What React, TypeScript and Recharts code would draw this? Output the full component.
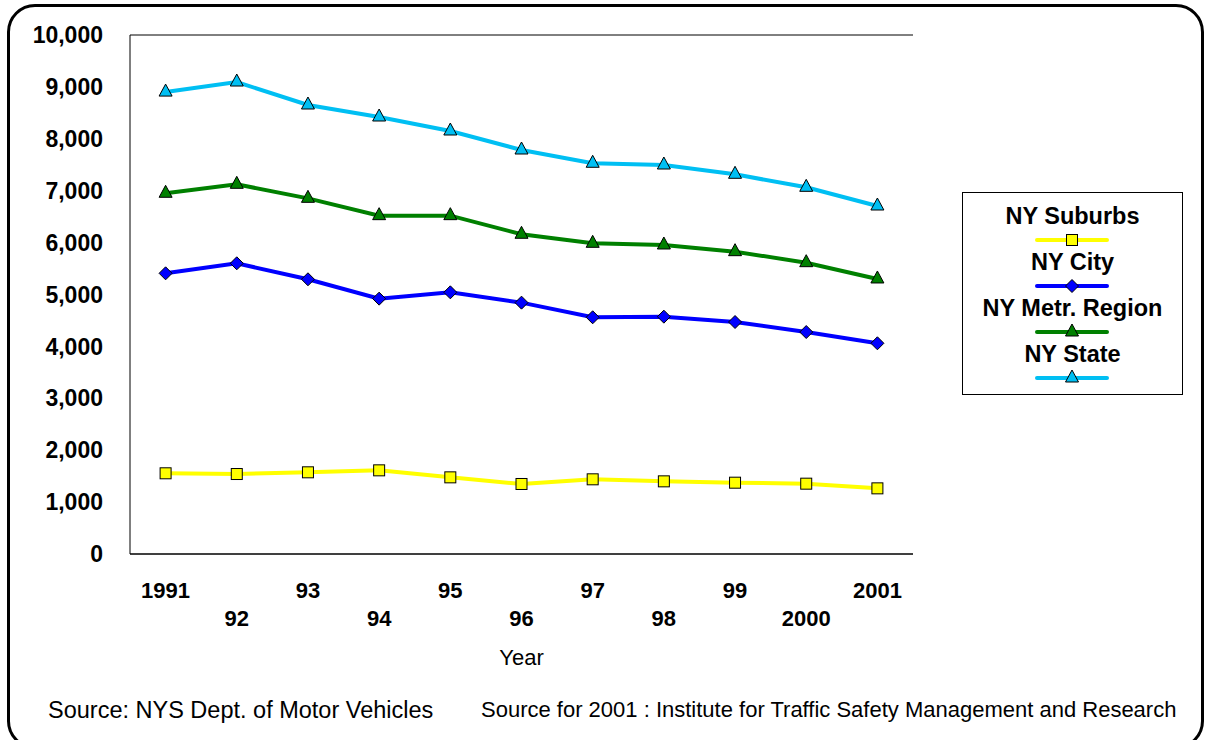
import React from 'react';
import { LineChart, Line, XAxis, YAxis, CartesianGrid, Legend } from 'recharts';

const years = ['1991', '92', '93', '94', '95', '96', '97', '98', '99', '2000', '2001'];
const suburbs = [1555, 1541, 1574, 1612, 1477, 1349, 1439, 1400, 1374, 1355, 1265];
const city = [5408, 5601, 5293, 4920, 5042, 4843, 4561, 4573, 4470, 4277, 4060];
const metro = [6950, 7123, 6853, 6519, 6519, 6160, 5986, 5954, 5825, 5613, 5299];
const state = [8900, 9094, 8651, 8420, 8150, 7784, 7528, 7495, 7316, 7065, 6705];
const yTicks = [0, 1000, 2000, 3000, 4000, 5000, 6000, 7000, 8000, 9000, 10000];

const seriesNames = ['NY Suburbs', 'NY City', 'NY Metr. Region', 'NY State'];
const colors = ['#FFFF00', '#0000FF', '#008000', '#00BFF3'];
const shapes = ['square', 'diamond', 'triangle', 'triangle'];

const data = years.map((y, i) => ({
  year: y,
  suburbs: suburbs[i],
  city: city[i],
  metro: metro[i],
  state: state[i],
}));

const FONT = '"Liberation Sans", Arial, sans-serif';

function Marker({ cx, cy, shape, fill }: { cx: number; cy: number; shape: string; fill: string }) {
  if (cx == null || cy == null) return null;
  if (shape === 'square') {
    return <rect x={cx - 5.5} y={cy - 5.5} width={11} height={11} fill={fill} stroke="#000" strokeWidth={1} />;
  }
  if (shape === 'diamond') {
    return (
      <polygon
        points={`${cx},${cy - 6.5} ${cx + 6.5},${cy} ${cx},${cy + 6.5} ${cx - 6.5},${cy}`}
        fill={fill}
        stroke="#000"
        strokeWidth={1}
      />
    );
  }
  return (
    <polygon
      points={`${cx},${cy - 8} ${cx + 6.5},${cy + 4} ${cx - 6.5},${cy + 4}`}
      fill={fill}
      stroke="#000"
      strokeWidth={1}
    />
  );
}

function makeDot(shape: string, fill: string) {
  return (props: any) => <Marker key={`${shape}-${props.index}`} cx={props.cx} cy={props.cy} shape={shape} fill={fill} />;
}

function XTick(props: any) {
  const { x, y, payload, index } = props;
  const off = index % 2 === 0 ? 28 : 56;
  return (
    <text
      x={x}
      y={y + off}
      textAnchor="middle"
      dominantBaseline="central"
      fontFamily={FONT}
      fontWeight="bold"
      fontSize={22}
      fill="#000"
    >
      {payload.value}
    </text>
  );
}

function LegendContent() {
  return (
    <div
      style={{
        width: '100%',
        height: '100%',
        boxSizing: 'border-box',
        border: '1px solid #000',
        background: '#fff',
        paddingTop: 10,
        fontFamily: FONT,
      }}
    >
      {seriesNames.map((name, i) => (
        <div key={name} style={{ textAlign: 'center', height: 46 }}>
          <div style={{ fontWeight: 'bold', fontSize: 23.5, lineHeight: '26px', color: '#000', whiteSpace: 'nowrap' }}>{name}</div>
          <svg width={80} height={20} style={{ display: 'block', margin: '0 auto' }}>
            <line x1={4} y1={11} x2={74} y2={11} stroke={colors[i]} strokeWidth={4} strokeLinecap="round" />
            <Marker cx={39} cy={11} shape={shapes[i]} fill={colors[i]} />
          </svg>
        </div>
      ))}
    </div>
  );
}

export default function App() {
  return (
    <div style={{ position: 'absolute', left: 0, top: 0, width: 1206, height: 740, background: '#fff', overflow: 'hidden' }}>
      <div
        style={{
          position: 'absolute',
          left: 7,
          top: 4,
          width: 1197,
          height: 745,
          boxSizing: 'border-box',
          border: '3px solid #000',
          borderRadius: 28,
        }}
      />
      <div style={{ position: 'absolute', left: 0, top: 0 }}>
        <LineChart
          width={1206}
          height={740}
          data={data}
          margin={{ top: 35, right: 293, bottom: 0, left: 0 }}
        >
          <CartesianGrid vertical={false} stroke="#000" strokeWidth={1} />
          <XAxis
            dataKey="year"
            height={186}
            padding={{ left: 35.6, right: 35.6 }}
            axisLine={{ stroke: '#000' }}
            tickLine={false}
            tick={<XTick />}
            interval={0}
            label={{
              value: 'Year',
              position: 'insideTop',
              offset: 95,
              fontFamily: FONT,
              fontSize: 22,
              fill: '#000',
            }}
          />
          <YAxis
            yAxisId="left"
            width={130}
            domain={[0, 10000]}
            ticks={yTicks}
            interval={0}
            axisLine={{ stroke: '#000' }}
            tickLine={false}
            tickMargin={21}
            tickFormatter={(v: number) => v.toLocaleString('en-US')}
            tick={{ fontFamily: FONT, fontWeight: 'bold', fontSize: 23, fill: '#000' }}
          />
          <YAxis
            yAxisId="right"
            orientation="right"
            width={0}
            domain={[0, 10000]}
            axisLine={{ stroke: '#000' }}
            tickLine={false}
            tick={false}
          />
          <Legend
            layout="vertical"
            align="center"
            verticalAlign="middle"
            content={<LegendContent />}
            wrapperStyle={{ left: 962, top: 192, width: 221, height: 203 }}
          />
          <Line yAxisId="left" dataKey="suburbs" name={seriesNames[0]} stroke={colors[0]} strokeWidth={4} dot={makeDot(shapes[0], colors[0])} activeDot={false} isAnimationActive={false} />
          <Line yAxisId="left" dataKey="city" name={seriesNames[1]} stroke={colors[1]} strokeWidth={4} dot={makeDot(shapes[1], colors[1])} activeDot={false} isAnimationActive={false} />
          <Line yAxisId="left" dataKey="metro" name={seriesNames[2]} stroke={colors[2]} strokeWidth={4} dot={makeDot(shapes[2], colors[2])} activeDot={false} isAnimationActive={false} />
          <Line yAxisId="left" dataKey="state" name={seriesNames[3]} stroke={colors[3]} strokeWidth={4} dot={makeDot(shapes[3], colors[3])} activeDot={false} isAnimationActive={false} />
        </LineChart>
      </div>
      <div style={{ position: 'absolute', left: 48, top: 697, fontFamily: FONT, fontSize: 23.5, lineHeight: '26px', whiteSpace: 'nowrap', color: '#000' }}>
        Source: NYS Dept. of Motor Vehicles
      </div>
      <div style={{ position: 'absolute', left: 481, top: 697, fontFamily: FONT, fontSize: 22, lineHeight: '26px', whiteSpace: 'nowrap', color: '#000' }}>
        Source for 2001 : Institute for Traffic Safety Management and Research
      </div>
    </div>
  );
}
